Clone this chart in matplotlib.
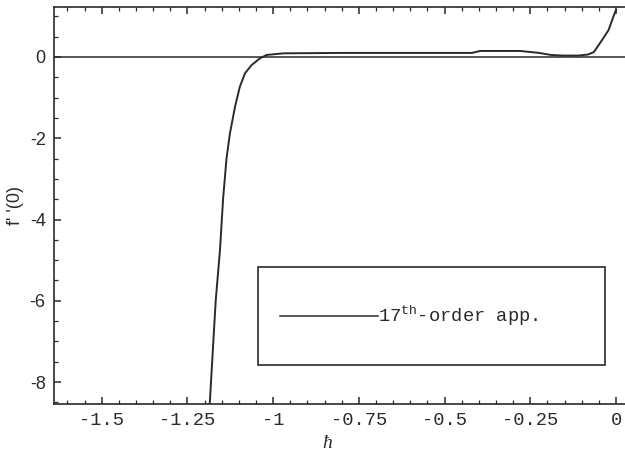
import matplotlib
matplotlib.use("Agg")
import matplotlib.pyplot as plt
from matplotlib.patches import Rectangle
from matplotlib.lines import Line2D
from matplotlib.ticker import MultipleLocator, FixedLocator

plt.rcParams['mathtext.fontset'] = 'custom'
plt.rcParams['mathtext.tt'] = 'Liberation Mono'
plt.rcParams['mathtext.rm'] = 'Liberation Mono'

# 17th-order approximation of f''(0) versus the auxiliary parameter hbar
hbar = [-1.186, -1.1675, -1.155, -1.146, -1.136, -1.126, -1.111, -1.097,
        -1.082, -1.063, -1.038, -1.019, -0.995, -0.970, -0.800, -0.600,
        -0.420, -0.397, -0.280, -0.224, -0.190, -0.155, -0.110, -0.082,
        -0.065, -0.047, -0.022, -0.008, 0.000]
fpp0 = [-8.7, -6.0, -4.75, -3.5, -2.5, -1.88, -1.22, -0.73,
        -0.40, -0.20, -0.03, 0.05, 0.07, 0.09, 0.10, 0.10,
        0.10, 0.148, 0.148, 0.10, 0.05, 0.035, 0.035, 0.06,
        0.12, 0.34, 0.66, 0.99, 1.16]

x_ticks = [-1.5, -1.25, -1.0, -0.75, -0.5, -0.25, 0.0]
x_labels = ["-1.5", "-1.25", "-1", "-0.75", "-0.5", "-0.25", "0"]
y_ticks = [0, -2, -4, -6, -8]
y_labels = ["0", "-2", "-4", "-6", "-8"]

ink = "#2a2a2a"

fig = plt.figure(figsize=(6.25, 4.55), dpi=100)
ax = fig.add_axes([54/625, 1 - 404/455, 571/625, 397/455])
ax.set_xlim(-1.639, 0.026)
ax.set_ylim(-8.54, 1.23)

ax.axhline(0, color=ink, lw=1.1, zorder=2)
ax.plot(hbar, fpp0, color=ink, lw=1.4, zorder=3)

ax.spines["right"].set_visible(False)
for side in ("left", "top", "bottom"):
    ax.spines[side].set_color(ink)
    ax.spines[side].set_linewidth(1.2)

ax.xaxis.set_major_locator(FixedLocator(x_ticks))
ax.set_xticklabels(x_labels, family="Liberation Mono", fontsize=13.5)
ax.xaxis.set_minor_locator(MultipleLocator(0.05))
ax.yaxis.set_major_locator(FixedLocator(y_ticks))
ax.set_yticklabels(y_labels, family="Liberation Sans", fontsize=13)
ax.yaxis.set_minor_locator(MultipleLocator(0.5))
ax.tick_params(which="both", direction="in", color=ink, top=True,
               right=False, labelcolor=ink)
ax.tick_params(which="major", length=5, width=1.1, pad=6)
ax.tick_params(which="minor", length=3, width=0.9)

ax.text(-0.843, -9.5, "ħ", family="Liberation Serif", style="italic",
        fontsize=14, color=ink, ha="center", va="center", clip_on=False)
ax.set_ylabel("f' '(0)", family="Liberation Sans", fontsize=13,
              color=ink, labelpad=4)

# boxed legend
ax.add_patch(Rectangle((0.357, 0.098), 0.608, 0.248, transform=ax.transAxes,
                       fill=False, edgecolor=ink, lw=1.2, zorder=4))
ax.add_line(Line2D([0.396, 0.567], [0.222, 0.222], transform=ax.transAxes,
                   color=ink, lw=1.1, zorder=4))
ax.text(0.568, 0.222, r"17$^{\mathtt{th}}$-order app.", transform=ax.transAxes,
        family="Liberation Mono", fontsize=13.5, color=ink, ha="left",
        va="center")

fig.savefig("out.png", dpi=100)
